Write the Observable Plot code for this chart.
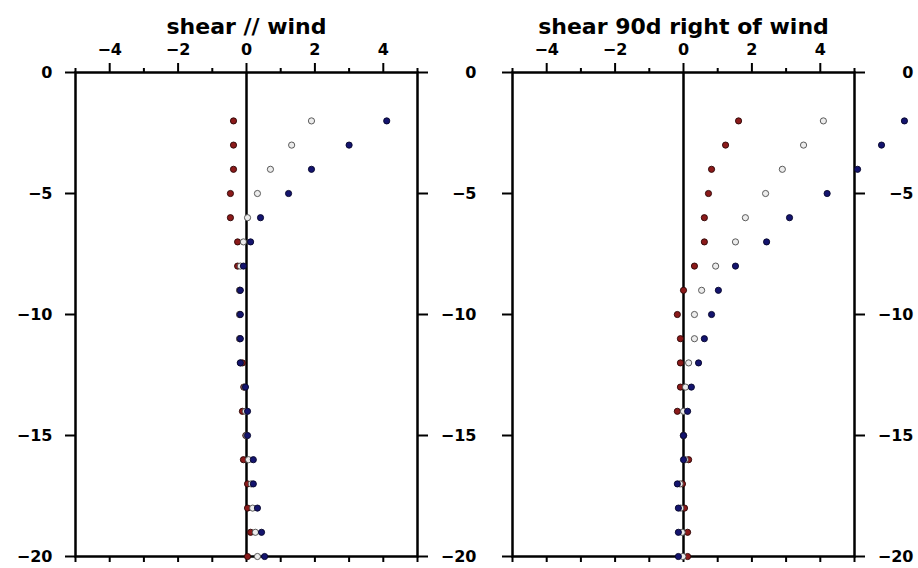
<!DOCTYPE html>
<html><head><meta charset="utf-8">
<script src="https://cdn.jsdelivr.net/npm/d3@7"></script>
<script src="https://cdn.jsdelivr.net/npm/@observablehq/plot@0.6"></script>
<style>
body{margin:0;background:#fff;}
#wrap{position:relative;width:918px;height:568px;overflow:hidden;background:#fff;}
#wrap svg{position:absolute;top:0;}
</style></head><body><div id="wrap"></div>
<script>
// vertical levels
const levels = [-2,-3,-4,-5,-6,-7,-8,-9,-10,-11,-12,-13,-14,-15,-16,-17,-18,-19,-20];
const titles = ["shear // wind", "shear 90d right of wind"];
const xMajorTicks = [-4,-2,0,2,4];
const xMinorTicks = [-5,-3,-1,1,3,5];
const yTicks = [0,-5,-10,-15,-20];

// panel 1: shear // wind
const parRed  = [-0.38,-0.38,-0.38,-0.47,-0.47,-0.26,-0.26,-0.20,-0.20,-0.20,-0.12,-0.08,-0.12,-0.02,-0.09,0.03,0.03,0.12,0.03];
const parGray = [1.90,1.32,0.70,0.32,0.03,-0.09,-0.18,-0.20,-0.20,-0.20,-0.18,-0.05,-0.03,0.00,0.06,0.14,0.18,0.26,0.32];
const parNavy = [4.10,3.00,1.90,1.23,0.41,0.12,-0.09,-0.18,-0.18,-0.18,-0.18,-0.03,0.03,0.03,0.20,0.20,0.32,0.44,0.53];

// panel 2: shear 90d right of wind
const perpRed  = [1.61,1.23,0.82,0.73,0.61,0.61,0.32,0.00,-0.18,-0.09,-0.09,-0.09,-0.18,0.00,0.15,-0.03,0.03,0.12,0.12];
const perpGray = [4.09,3.51,2.89,2.40,1.81,1.52,0.94,0.53,0.32,0.32,0.15,0.06,0.00,0.00,0.05,-0.10,-0.08,-0.04,-0.02];
const perpNavy = [6.46,5.79,5.09,4.20,3.10,2.43,1.52,1.02,0.82,0.61,0.44,0.23,0.12,0.00,0.00,-0.18,-0.15,-0.15,-0.15];

const fmt = d3.format("d");
const none = () => "";

function panel(title, red, gray, navy, o) {
  const dots = (vals, fill, stroke) => Plot.dot(levels, {
    x: (d, i) => vals[i], y: d => d, r: 3.1, fill, stroke, strokeWidth: 0.9
  });
  return Plot.plot({
    width: o.width, height: 568,
    marginLeft: o.ml, marginRight: o.mr, marginTop: 72, marginBottom: 12,
    x: {domain: [-5, 5]},
    y: {domain: [-20, 0]},
    style: {fontFamily: "DejaVu Sans", fontSize: "16px", fontWeight: "bold", background: "white", overflow: "visible"},
    marks: [
      Plot.axisX(xMajorTicks, {anchor: "top", tickSize: 10, tickPadding: 8, strokeWidth: 2, tickFormat: fmt, label: null}),
      Plot.axisX(xMinorTicks, {anchor: "top", tickSize: 5, strokeWidth: 2, tickFormat: none, label: null}),
      Plot.axisX([...xMajorTicks, ...xMinorTicks], {anchor: "bottom", tickSize: 6, strokeWidth: 2, tickFormat: none, label: null}),
      Plot.axisY(yTicks, {anchor: "left", tickSize: 10, tickPadding: 13, strokeWidth: 2, tickFormat: o.leftLabels ? fmt : none, label: null}),
      Plot.axisY(yTicks, {anchor: "right", tickSize: 10, tickPadding: 49, textAnchor: "end", strokeWidth: 2, tickFormat: fmt, label: null}),
      Plot.frame({strokeWidth: 2.5}),
      Plot.ruleX([0], {strokeWidth: 2.5}),
      dots(red, "#8b1a1a", "#2b0606"),
      dots(gray, "#ececec", "#4a4a4a"),
      dots(navy, "#14146e", "#05052a"),
      Plot.text([title], {frameAnchor: "top", dy: -39, lineAnchor: "bottom", fontSize: 22, fontWeight: "bold"})
    ]
  });
}

const wrap = document.getElementById("wrap");
const p1 = panel(titles[0], parRed, parGray, parNavy, {width: 480, ml: 75, mr: 63, leftLabels: true});
p1.style.left = "0px";
const p2 = panel(titles[1], perpRed, perpGray, perpNavy, {width: 438, ml: 32, mr: 64, leftLabels: false});
p2.style.left = "480px";
wrap.appendChild(p1);
wrap.appendChild(p2);
</script></body></html>
